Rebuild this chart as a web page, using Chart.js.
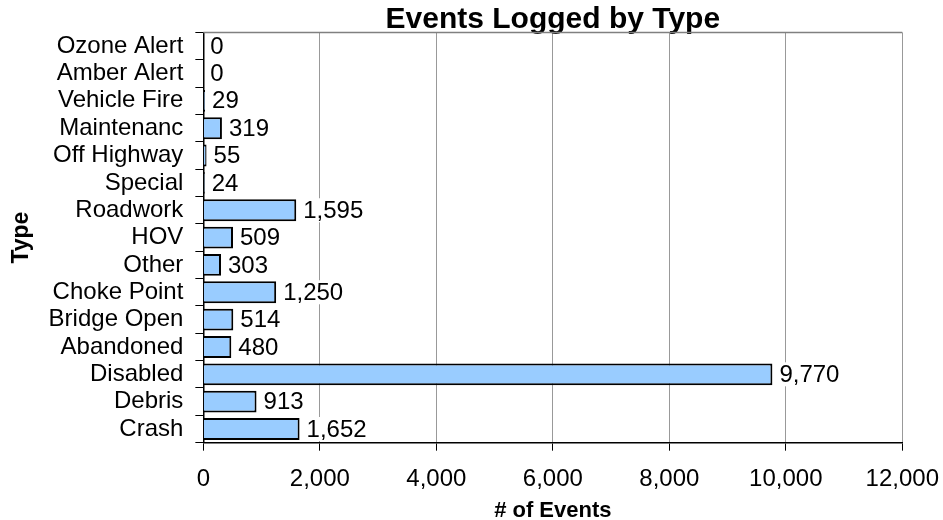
<!DOCTYPE html>
<html>
<head>
<meta charset="utf-8">
<title>Events Logged by Type</title>
<script src="https://cdn.jsdelivr.net/npm/chart.js@4.4.1/dist/chart.umd.min.js"></script>
<style>
  html, body { margin: 0; padding: 0; background: #fff; }
  #wrap { width: 943px; height: 520px; position: relative; }
</style>
</head>
<body>
<div id="wrap"><canvas id="canvas"></canvas></div>
<script>
// event types, bottom to top
var types = ['Crash', 'Debris', 'Disabled', 'Abandoned', 'Bridge Open', 'Choke Point', 'Other',
  'HOV', 'Roadwork', 'Special', 'Off Highway', 'Maintenanc', 'Vehicle Fire', 'Amber Alert', 'Ozone Alert'];
var counts = [1652, 913, 9770, 480, 514, 1250, 303, 509, 1595, 24, 55, 319, 29, 0, 0];

var xMin = 0, xMax = 12000, xStep = 2000;

Chart.defaults.font.family = "'Liberation Sans', Arial, sans-serif";
Chart.defaults.color = '#000';

// count next to each bar, on a white box
var valueLabels = {
  id: 'valueLabels',
  afterDatasetsDraw: function (chart) {
    var c = chart.ctx;
    var meta = chart.getDatasetMeta(0);
    c.save();
    c.font = "24px 'Liberation Sans', Arial, sans-serif";
    c.textBaseline = 'middle';
    c.textAlign = 'left';
    meta.data.forEach(function (bar, i) {
      var txt = counts[i].toLocaleString('en-US');
      var w = c.measureText(txt).width;
      var x = bar.x + 7;
      c.fillStyle = '#fff';
      c.fillRect(x - 2, bar.y - 12, w + 4, 24);
      c.fillStyle = '#000';
      c.fillText(txt, x, bar.y + 1);
    });
    c.restore();
  }
};

// grey frame along the top of the plot
var plotFrame = {
  id: 'plotFrame',
  beforeDatasetsDraw: function (chart) {
    var a = chart.chartArea, c = chart.ctx;
    c.save();
    c.strokeStyle = '#808080';
    c.lineWidth = 1.5;
    c.beginPath();
    c.moveTo(a.left, a.top);
    c.lineTo(a.right, a.top);
    c.stroke();
    c.restore();
  }
};

var ctx = document.getElementById('canvas').getContext('2d');

var myChart = new Chart(ctx, {
  type: 'bar',
  data: {
    labels: types,
    datasets: [{
      label: 'Events',
      data: counts,
      backgroundColor: '#99CCFF',
      borderColor: '#000',
      borderWidth: 2,
      borderSkipped: 'start',
      categoryPercentage: 1,
      barPercentage: 0.8
    }]
  },
  options: {
    indexAxis: 'y',
    responsive: true,
    maintainAspectRatio: false,
    animation: false,
    layout: { padding: 0 },
    plugins: {
      legend: { display: false },
      tooltip: { enabled: false },
      title: {
        display: true,
        text: 'Events Logged by Type',
        fullSize: false,
        font: { size: 30, weight: 'bold', lineHeight: 0.85 },
        padding: { top: 7, bottom: 0 },
        color: '#000'
      }
    },
    scales: {
      x: {
        min: xMin,
        max: xMax,
        ticks: {
          stepSize: xStep,
          font: { size: 24, lineHeight: 2.08 },
          padding: 4,
          callback: function (v) { return v.toLocaleString('en-US'); }
        },
        grid: { color: '#999', lineWidth: 1, tickColor: '#000', tickLength: 8 },
        border: { color: '#000', width: 1.5 },
        title: {
          display: true,
          text: '# of Events',
          font: { size: 22, weight: 'bold', lineHeight: 0.2 },
          padding: { top: 0, bottom: 7 }
        }
      },
      y: {
        reverse: true,
        ticks: { font: { size: 24 }, padding: 12, autoSkip: false },
        grid: { drawOnChartArea: false, color: '#000', tickLength: 8, offset: true },
        border: { color: '#000', width: 1.5 },
        title: {
          display: true,
          text: 'Type',
          font: { size: 23, weight: 'bold' },
          padding: { top: 8, bottom: 1 }
        }
      }
    }
  },
  plugins: [plotFrame, valueLabels]
});
</script>
</body>
</html>
